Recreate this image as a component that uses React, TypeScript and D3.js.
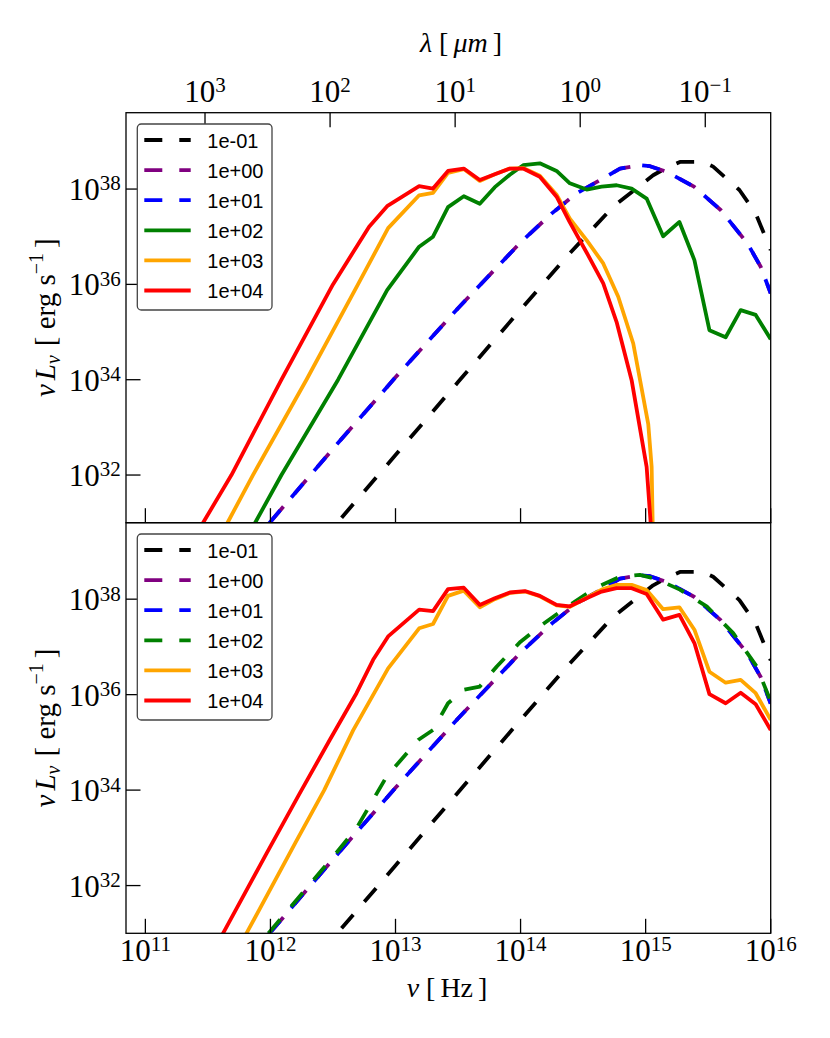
import React from 'react';
import * as d3 from 'd3';

const width = 830;
const height = 1038;
const left = 126;
const right = 770.7;
const panels = [
  { top: 112.7, bottom: 522.7 },
  { top: 522.7, bottom: 933.3 },
];

const SERIF = '"Liberation Serif", "DejaVu Serif", serif';
const SANS = '"Liberation Sans", "DejaVu Sans", sans-serif';

// axis ranges and ticks (exponents of ten)
const nuDomain = [7e10, 1e16];
const lumDomain = [1e31, 4e39];
const nuTickExp = [11, 12, 13, 14, 15, 16];
const lumTickExp = [32, 34, 36, 38];
const lambdaTickExp = [3, 2, 1, 0, -1];
const C_UM = 2.998e14; // speed of light in micron / s

const seriesLabels = ['1e-01', '1e+00', '1e+01', '1e+02', '1e+03', '1e+04'];
const seriesColors = ['#000000', '#800080', '#0000ff', '#008000', '#ffa500', '#ff0000'];

// [log10 nu (Hz), log10 nuLnu (erg/s)]
const sed1em01 = [
  [12.2, 30.0], [12.541, 31.02], [13.0, 32.42], [13.5, 33.95], [14.0, 35.47], [14.368, 36.58],
  [14.74, 37.63], [15.06, 38.29], [15.17, 38.45], [15.274, 38.57], [15.46, 38.57], [15.54, 38.47],
  [15.75, 37.98], [15.88, 37.49], [16.0, 36.72],
];
const sed1e00 = [
  [11.8, 30.42], [12.0, 31.02], [12.5, 32.55], [13.0, 34.05], [13.5, 35.5], [14.0, 36.88],
  [14.25, 37.49], [14.448, 37.91], [14.61, 38.15], [14.795, 38.43], [14.955, 38.5], [15.035, 38.48],
  [15.17, 38.36], [15.387, 38.05], [15.6, 37.56], [15.814, 36.86], [15.92, 36.37], [16.0, 35.81],
];
const sed1e01 = [
  [11.8, 30.42], [12.0, 31.02], [12.5, 32.55], [13.0, 34.05], [13.5, 35.5], [14.0, 36.88],
  [14.25, 37.49], [14.448, 37.91], [14.61, 38.15], [14.795, 38.43], [14.955, 38.5], [15.035, 38.48],
  [15.17, 38.36], [15.387, 38.05], [15.6, 37.56], [15.814, 36.86], [15.92, 36.37], [16.0, 35.81],
];

// upper panel
const topSed1e02 = [
  [11.7, 30.15], [11.882, 31.02], [12.088, 32.0], [12.541, 34.0], [12.933, 35.88], [13.189, 36.79],
  [13.3, 37.0], [13.42, 37.62], [13.546, 37.85], [13.674, 37.69], [13.794, 38.04], [13.914, 38.3],
  [14.021, 38.5], [14.154, 38.54], [14.288, 38.38], [14.394, 38.12], [14.528, 37.99], [14.648, 38.05],
  [14.768, 38.08], [14.888, 38.01], [15.008, 37.8], [15.14, 37.01], [15.27, 37.31], [15.39, 36.51],
  [15.51, 35.04], [15.64, 34.89], [15.76, 35.46], [15.88, 35.36], [16.0, 34.85],
];
const topSed1e03 = [
  [11.5, 30.25], [11.661, 31.02], [11.86, 32.0], [12.288, 34.0], [12.7, 36.0], [12.941, 37.18],
  [13.189, 37.87], [13.3, 37.92], [13.42, 38.34], [13.546, 38.42], [13.674, 38.17], [13.794, 38.31],
  [13.914, 38.43], [14.021, 38.44], [14.154, 38.28], [14.288, 37.88], [14.394, 37.38], [14.528, 36.93],
  [14.661, 36.44], [14.781, 35.74], [14.901, 34.76], [15.021, 33.07], [15.048, 32.17], [15.07, 29.0],
];
const topSed1e04 = [
  [11.3, 30.27], [11.466, 31.02], [11.688, 32.0], [12.088, 34.0], [12.5, 36.0], [12.789, 37.21],
  [12.933, 37.64], [13.189, 38.06], [13.3, 38.01], [13.42, 38.38], [13.546, 38.43], [13.674, 38.19],
  [13.794, 38.31], [13.914, 38.43], [14.021, 38.43], [14.154, 38.26], [14.288, 37.84], [14.394, 37.3],
  [14.528, 36.67], [14.661, 36.02], [14.768, 35.21], [14.888, 33.99], [15.008, 32.17], [15.04, 31.0],
  [15.06, 29.0],
];

// lower panel
const botSed1e02 = [
  [11.8, 30.45], [12.0, 31.05], [12.5, 32.6], [12.688, 33.2], [12.928, 34.28], [13.181, 35.05],
  [13.3, 35.26], [13.42, 35.82], [13.546, 36.1], [13.674, 36.17], [13.81, 36.59], [14.0, 37.11],
  [14.154, 37.43], [14.394, 37.88], [14.594, 38.23], [14.794, 38.47], [14.954, 38.51], [15.088, 38.42],
  [15.274, 38.2], [15.488, 37.85], [15.7, 37.29], [15.888, 36.59], [15.995, 35.89],
];
const botSed1e03 = [
  [11.6, 30.0], [11.821, 31.06], [12.2, 32.9], [12.43, 34.0], [12.661, 35.25], [12.941, 36.55],
  [13.189, 37.39], [13.3, 37.48], [13.42, 38.07], [13.546, 38.18], [13.674, 37.83], [13.794, 38.0],
  [13.914, 38.13], [14.035, 38.16], [14.154, 38.06], [14.288, 37.87], [14.394, 37.84], [14.528, 38.03],
  [14.648, 38.2], [14.768, 38.3], [14.888, 38.3], [15.008, 38.19], [15.14, 37.79], [15.27, 37.83],
  [15.39, 37.36], [15.51, 36.48], [15.64, 36.25], [15.76, 36.31], [15.88, 36.03], [16.0, 35.47],
];
const botSed1e04 = [
  [11.4, 29.95], [11.634, 31.06], [11.968, 32.67], [12.234, 33.93], [12.474, 35.05], [12.688, 36.03],
  [12.821, 36.73], [12.941, 37.22], [13.189, 37.78], [13.3, 37.75], [13.42, 38.21], [13.546, 38.24],
  [13.674, 37.88], [13.794, 38.02], [13.914, 38.14], [14.035, 38.17], [14.154, 38.07], [14.288, 37.88],
  [14.394, 37.85], [14.528, 38.02], [14.648, 38.16], [14.768, 38.23], [14.888, 38.23], [15.008, 38.11],
  [15.14, 37.57], [15.27, 37.67], [15.39, 37.08], [15.51, 36.01], [15.64, 35.82], [15.76, 36.04],
  [15.88, 35.8], [16.0, 35.26],
];

const topSeries = [sed1em01, sed1e00, sed1e01, topSed1e02, topSed1e03, topSed1e04];
const botSeries = [sed1em01, sed1e00, sed1e01, botSed1e02, botSed1e03, botSed1e04];
const topDashed = [true, true, true, false, false, false];
const botDashed = [true, true, true, true, false, false];

const LW = 3.8;
const DASH = '18 17';
const TICK = 14.5;

const x = d3.scaleLog().domain(nuDomain).range([left, right]);

const expText = (e: number) => (e < 0 ? '\u2212' + -e : String(e));

const Pow = ({ px, py, e, anchor }: any) => (
  <text x={px} y={py} textAnchor={anchor} fontFamily={SERIF} fontSize={31} fill="#000">
    <tspan>10</tspan>
    <tspan fontSize={21} dy={-9.6}>{expText(e)}</tspan>
  </text>
);

const Legend = ({ top, dashed }: any) => {
  const x0 = 137.3;
  return (
    <g>
      <rect x={x0} y={top + 11.3} width={134.7} height={186} rx={4} fill="#fff" stroke="#444" strokeWidth={1.3} />
      {seriesLabels.map((lab, i) => {
        const cy = top + 27.3 + i * 30.1;
        return (
          <g key={lab}>
            <line x1={144.3} x2={190.7} y1={cy} y2={cy} stroke={seriesColors[i]} strokeWidth={LW}
              strokeDasharray={dashed[i] ? DASH : undefined} />
            <text x={207.3} y={cy + 7.5} fontFamily={SANS} fontSize={20} fill="#000">{lab}</text>
          </g>
        );
      })}
    </g>
  );
};

const Panel = ({ p, idx, series, dashed }: any) => {
  const y = d3.scaleLog().domain(lumDomain).range([p.bottom, p.top]);
  const line = d3
    .line<number[]>()
    .x((d) => x(Math.pow(10, d[0])))
    .y((d) => y(Math.pow(10, d[1])));
  const clipId = `clip${idx}`;
  const midY = (p.top + p.bottom) / 2;
  return (
    <g>
      <defs>
        <clipPath id={clipId}>
          <rect x={left} y={p.top} width={right - left} height={p.bottom - p.top} />
        </clipPath>
      </defs>
      <g clipPath={`url(#${clipId})`}>
        {series.map((s: number[][], i: number) => (
          <path key={i} d={line(s) as string} fill="none" stroke={seriesColors[i]} strokeWidth={LW}
            strokeLinejoin="round" strokeDasharray={dashed[i] ? DASH : undefined}
            strokeDashoffset={i === 1 ? -5 : 0} />
        ))}
      </g>
      {/* y ticks and labels */}
      {lumTickExp.map((e) => {
        const ty = y(Math.pow(10, e));
        return (
          <g key={e}>
            <line x1={left} x2={left + TICK} y1={ty} y2={ty} stroke="#000" strokeWidth={1.3} />
            <Pow px={120.7} py={ty + 11} e={e} anchor="end" />
          </g>
        );
      })}
      {/* nu ticks on bottom edge */}
      {nuTickExp.map((e) => {
        const tx = x(Math.pow(10, e));
        return (
          <g key={e}>
            <line x1={tx} x2={tx} y1={p.bottom} y2={p.bottom - TICK} stroke="#000" strokeWidth={1.3} />
            {idx === 1 && <Pow px={tx} py={p.bottom + 27.4} e={e} anchor="middle" />}
          </g>
        );
      })}
      {/* lambda ticks on the top of the upper panel */}
      {idx === 0 &&
        lambdaTickExp.map((e) => {
          const tx = x(C_UM / Math.pow(10, e));
          return (
            <g key={e}>
              <line x1={tx} x2={tx} y1={p.top} y2={p.top + TICK} stroke="#000" strokeWidth={1.3} />
              <Pow px={tx} py={p.top - 11} e={e} anchor="middle" />
            </g>
          );
        })}
      <rect x={left} y={p.top} width={right - left} height={p.bottom - p.top} fill="none" stroke="#000" strokeWidth={1.3} />
      <Legend top={p.top} dashed={dashed} />
      {/* y axis label */}
      <text transform={`translate(55,${midY}) rotate(-90)`} textAnchor="middle" fontFamily={SERIF} fontSize={29} fill="#000">
        <tspan fontStyle="italic">ν</tspan>
        <tspan fontStyle="italic" dx={4}>L</tspan>
        <tspan fontStyle="italic" fontSize={20} dy={5}>ν</tspan>
        <tspan dy={-5} dx={9}>[ erg s</tspan>
        <tspan fontSize={20} dy={-12}>{'\u22121'}</tspan>
        <tspan dy={12} dx={5}>]</tspan>
      </text>
    </g>
  );
};

const App = () => (
  <svg width={width} height={height} style={{ position: 'absolute', left: 0, top: 0, background: '#fff' }}>
    <rect width={width} height={height} fill="#fff" />
    <Panel p={panels[0]} idx={0} series={topSeries} dashed={topDashed} />
    <Panel p={panels[1]} idx={1} series={botSeries} dashed={botDashed} />
    <text x={461} y={52} textAnchor="middle" fontFamily={SERIF} fontSize={28} fill="#000">
      <tspan fontStyle="italic">λ</tspan>
      <tspan dx={7}>[</tspan>
      <tspan fontStyle="italic" dx={5}>μm</tspan>
      <tspan dx={5}>]</tspan>
    </text>
    <text x={447} y={996.7} textAnchor="middle" fontFamily={SERIF} fontSize={28} fill="#000">
      <tspan fontStyle="italic">ν</tspan>
      <tspan dx={7}>[</tspan>
      <tspan dx={5}>Hz</tspan>
      <tspan dx={5}>]</tspan>
    </text>
  </svg>
);

export default App;
